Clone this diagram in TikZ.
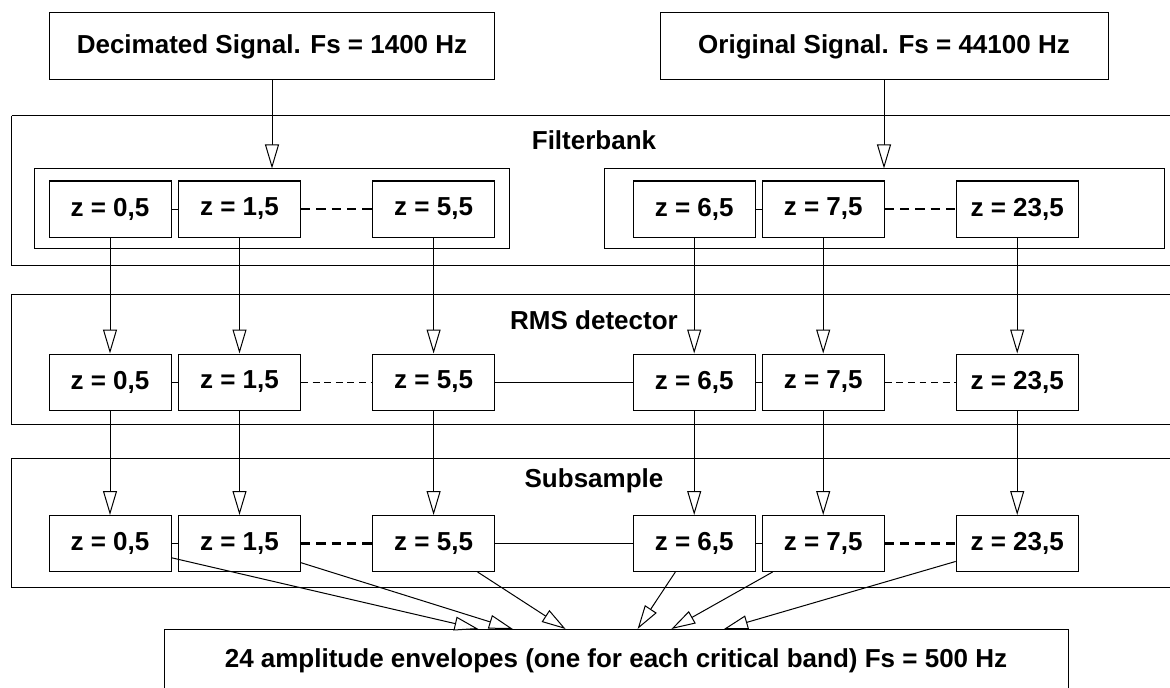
\documentclass[tikz,border=0pt]{standalone}
\usepackage{fontspec}
\setmainfont{Liberation Sans}
\usetikzlibrary{arrows.meta}

\newcommand{\blockfont}{\fontsize{19.5}{23}\selectfont\bfseries}
\tikzset{every picture/.style={line width=0.75pt}}
\tikzset{
  band/.style={draw, fill=white, inner sep=0pt, minimum width=91.5pt, minimum height=42pt, font=\blockfont},
  bank/.style={draw, inner sep=0pt, minimum height=59.25pt},
  feed/.style={-{Triangle[length=18pt,width=10.5pt,fill=white]}},
  bolddash/.style={line width=2pt, dash pattern={on 7pt off 4.5pt}},
  thindash/.style={line width=0.75pt, dash pattern={on 5.2pt off 3.5pt}}
}

\begin{document}
\begin{tikzpicture}[x=0.75pt,y=0.75pt,yscale=-1,xscale=1]
	\useasboundingbox (0,0) rectangle (1170,688);

	%Shape: Rectangle (panels)
	\draw (11.5,116) -- (1180,116) (11.5,116) -- (11.5,265) -- (1180,265) ;
	\draw (11.5,294) -- (1180,294) (11.5,294) -- (11.5,424) -- (1180,424) ;
	\draw (11.5,458) -- (1180,458) (11.5,458) -- (11.5,587) -- (1180,587) ;

	% Text Node
	\draw (272,46.5) node [draw, inner sep=0pt, minimum width=333.75pt, minimum height=50.25pt, font=\blockfont] (dec) {Decimated Signal. Fs = 1400 Hz};
	% Text Node
	\draw (884,46.5) node [draw, inner sep=0pt, minimum width=336pt, minimum height=50.25pt, font=\blockfont] (orig) {Original Signal. Fs = 44100 Hz};

	% Text Node
	\draw (594,140) node [font=\blockfont] (fbname) {Filterbank};
	% Text Node
	\draw (594,320) node [font=\blockfont] (rmsname) {RMS detector};
	% Text Node
	\draw (594,481) node [font=\blockfont] (ssname) {Subsample};

	%Shape: Rectangle (filter groups)
	\draw (272,208.5) node [bank, minimum width=355.65pt] (grpL) {};
	\draw (884,208.5) node [bank, minimum width=420pt] (grpR) {};

	% Filterbank row
	\draw (110,209) node [band] (fb1) {z = 0,5};
	\draw (239.5,209) node [band] (fb2) {z = 1,5};
	\draw (433.6,209) node [band] (fb3) {z = 5,5};
	\draw (694.2,209) node [band] (fb4) {z = 6,5};
	\draw (823.2,209) node [band] (fb5) {z = 7,5};
	\draw (1017.2,209) node [band] (fb6) {z = 23,5};

	% RMS detector row
	\draw (110,382) node [band] (rms1) {z = 0,5};
	\draw (239.5,382) node [band] (rms2) {z = 1,5};
	\draw (433.6,382) node [band] (rms3) {z = 5,5};
	\draw (694.2,382) node [band] (rms4) {z = 6,5};
	\draw (823.2,382) node [band] (rms5) {z = 7,5};
	\draw (1017.2,382) node [band] (rms6) {z = 23,5};

	% Subsample row
	\draw (110,543.5) node [band] (ss1) {z = 0,5};
	\draw (239.5,543.5) node [band] (ss2) {z = 1,5};
	\draw (433.6,543.5) node [band] (ss3) {z = 5,5};
	\draw (694.2,543.5) node [band] (ss4) {z = 6,5};
	\draw (823.2,543.5) node [band] (ss5) {z = 7,5};
	\draw (1017.2,543.5) node [band] (ss6) {z = 23,5};

	% Text Node
	\draw (616,660.5) node [draw, inner sep=0pt, minimum width=678pt, minimum height=47.25pt, font=\blockfont] (env) {24 amplitude envelopes (one for each critical band) Fs = 500 Hz};

	%Straight Lines (links within rows)
	\draw (fb1) -- (fb2) ;
	\draw [bolddash] (fb2) -- (fb3) ;
	\draw (fb4) -- (fb5) ;
	\draw [bolddash] (fb5) -- (fb6) ;
	\draw (rms1) -- (rms2) ;
	\draw [thindash] (rms2) -- (rms3) ;
	\draw (rms3) -- (rms4) ;
	\draw (rms4) -- (rms5) ;
	\draw [thindash] (rms5) -- (rms6) ;
	\draw (ss1) -- (ss2) ;
	\draw [bolddash] (ss2) -- (ss3) ;
	\draw (ss3) -- (ss4) ;
	\draw (ss4) -- (ss5) ;
	\draw [bolddash] (ss5) -- (ss6) ;

	%Straight Lines (signal inputs)
	\draw [feed] (dec) -- (grpL) ;
	\draw [feed] (orig) -- (grpR) ;

	%Straight Lines (filterbank to RMS detector)
	\draw [feed] (fb1) -- (rms1) ;
	\draw [feed] (fb2) -- (rms2) ;
	\draw [feed] (fb3) -- (rms3) ;
	\draw [feed] (fb4) -- (rms4) ;
	\draw [feed] (fb5) -- (rms5) ;
	\draw [feed] (fb6) -- (rms6) ;

	%Straight Lines (RMS detector to subsample)
	\draw [feed] (rms1) -- (ss1) ;
	\draw [feed] (rms2) -- (ss2) ;
	\draw [feed] (rms3) -- (ss3) ;
	\draw [feed] (rms4) -- (ss4) ;
	\draw [feed] (rms5) -- (ss5) ;
	\draw [feed] (rms6) -- (ss6) ;

	%Straight Lines (subsample to envelopes)
	\coordinate (in1) at (478.4,629) ;
	\coordinate (in2) at (512.8,629) ;
	\coordinate (in3) at (565.6,629) ;
	\coordinate (in4) at (637.6,629) ;
	\coordinate (in5) at (671.4,629) ;
	\coordinate (in6) at (724,629) ;
	\draw [feed] (ss1) -- (in1) ;
	\draw [feed] (ss2) -- (in2) ;
	\draw [feed] (ss3) -- (in3) ;
	\draw [feed] (ss4) -- (in4) ;
	\draw [feed] (ss5) -- (in5) ;
	\draw [feed] (ss6) -- (in6) ;

\end{tikzpicture}
\end{document}
